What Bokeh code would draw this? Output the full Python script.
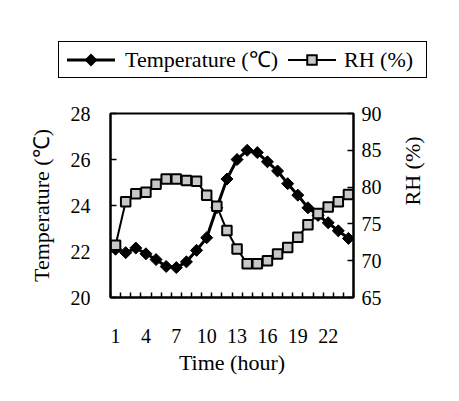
import math
from bokeh.plotting import figure
from bokeh.layouts import column
from bokeh.models import (Range1d, LinearAxis, FixedTicker, ColumnDataSource, Div)
from bokeh.embed import file_html
from bokeh.resources import INLINE

# ---- data ----
hours = list(range(1, 25))
temperature = [22.1, 21.95, 22.15, 21.9, 21.65, 21.35, 21.3, 21.55, 22.05, 22.6,
               23.9, 25.15, 26.0, 26.4, 26.3, 25.9, 25.5, 24.95, 24.45, 23.9,
               23.57, 23.25, 22.9, 22.57]
rh = [72.1, 78.0, 79.1, 79.3, 80.4, 81.1, 81.1, 80.9, 80.8, 78.9, 77.4, 74.1,
      71.6, 69.6, 69.6, 70.0, 70.9, 71.8, 73.2, 74.9, 76.4, 77.3, 78.0, 79.0]
x_tick_labels = [1, 4, 7, 10, 13, 16, 19, 22]
temp_ticks = [20, 22, 24, 26, 28]
rh_ticks = [65, 70, 75, 80, 85, 90]
series_names = ["Temperature (℃)", "RH (%)"]

FONT = "Liberation Serif"
W = 455
TOP_H = 80          # height of the legend strip
H = 397 - TOP_H     # height of the chart

src = ColumnDataSource(dict(h=hours, t=temperature, r=rh))

p = figure(width=W, height=H, output_backend="svg", toolbar_location=None,
           x_range=Range1d(0.5, 24.5), y_range=Range1d(20, 28),
           min_border_left=110, min_border_right=W - 353,
           min_border_top=113 - TOP_H, min_border_bottom=397 - 297,
           x_axis_label="Time (hour)", y_axis_label=series_names[0])
p.extra_y_ranges = {"rh": Range1d(65, 90)}

p.xgrid.visible = False
p.ygrid.visible = False
p.outline_line_color = "black"
p.outline_line_width = 2
p.background_fill_color = "white"
p.border_fill_color = "white"

p.line("h", "t", source=src, line_color="black", line_width=3)
p.scatter("h", "t", source=src, marker="square", angle=math.pi / 4,
          size=8.5, fill_color="black", line_color="black", line_width=1)
p.line("h", "r", source=src, y_range_name="rh", line_color="black", line_width=2)
p.scatter("h", "r", source=src, y_range_name="rh", marker="square",
          size=9.5, fill_color="#c8c8c8", line_color="black", line_width=2)

xa = p.xaxis[0]
xa.ticker = FixedTicker(ticks=x_tick_labels,
                        minor_ticks=[i + 0.5 for i in range(0, 25)])
xa.major_tick_in = 0
xa.major_tick_out = 0
xa.minor_tick_in = 5
xa.minor_tick_out = 0
xa.minor_tick_line_width = 1.5
xa.major_label_standoff = 31

ya = p.yaxis[0]
ya.ticker = FixedTicker(ticks=temp_ticks)
ya.major_tick_in = 6
ya.major_tick_out = 0
ya.minor_tick_in = 0
ya.minor_tick_out = 0
ya.major_label_standoff = 20

ra = LinearAxis(y_range_name="rh", axis_label=series_names[1])
ra.ticker = FixedTicker(ticks=rh_ticks)
ra.major_tick_in = 6
ra.major_tick_out = 0
ra.minor_tick_in = 0
ra.minor_tick_out = 0
ra.major_label_standoff = 8
ra.axis_label_orientation = math.pi / 2
p.add_layout(ra, "right")

for ax in (xa, ya, ra):
    ax.axis_line_color = "black"
    ax.axis_line_width = 2
    ax.major_tick_line_color = "black"
    ax.major_tick_line_width = 1.5
    ax.minor_tick_line_color = "black"
    ax.major_label_text_font = FONT
    ax.major_label_text_font_size = "20px"
    ax.major_label_text_color = "black"
    ax.axis_label_text_font = FONT
    ax.axis_label_text_font_size = "22px"
    ax.axis_label_text_font_style = "normal"
    ax.axis_label_text_color = "black"

xa.axis_label_standoff = 4
ya.axis_label_standoff = 14
ra.axis_label_standoff = 28

# ---------------- legend strip (HTML) ----------------
temp_key = ('<svg width="48" height="20" style="flex:none">'
            '<line x1="0" y1="10" x2="48" y2="10" stroke="black" stroke-width="3"/>'
            '<polygon points="24,3.5 30.5,10 24,16.5 17.5,10" fill="black"/></svg>')
rh_key = ('<svg width="48" height="20" style="flex:none">'
          '<line x1="0" y1="10" x2="48" y2="10" stroke="black" stroke-width="2"/>'
          '<rect x="19.25" y="5.25" width="9.5" height="9.5" fill="#c8c8c8" '
          'stroke="black" stroke-width="2"/></svg>')
legend_html = (
    f'<div style="position:relative;width:{W}px;height:{TOP_H}px;'
    f'font-family:\'{FONT}\',serif;font-size:22px;color:black;">'
    '<div style="position:absolute;left:58px;top:41px;width:369px;height:37px;'
    'box-sizing:border-box;border:1px solid black;background:white;'
    'display:flex;align-items:center;padding-left:8px;white-space:nowrap;">'
    f'{temp_key}<span style="margin-left:10px;">{series_names[0]}</span>'
    f'<span style="margin-left:10px;display:flex;">{rh_key}</span>'
    f'<span style="margin-left:8px;">{series_names[1]}</span>'
    '</div></div>')
legend_div = Div(text=legend_html, width=W, height=TOP_H, margin=0)

layout = column(legend_div, p, spacing=0)
open("out.html", "w").write(file_html(layout, INLINE))
